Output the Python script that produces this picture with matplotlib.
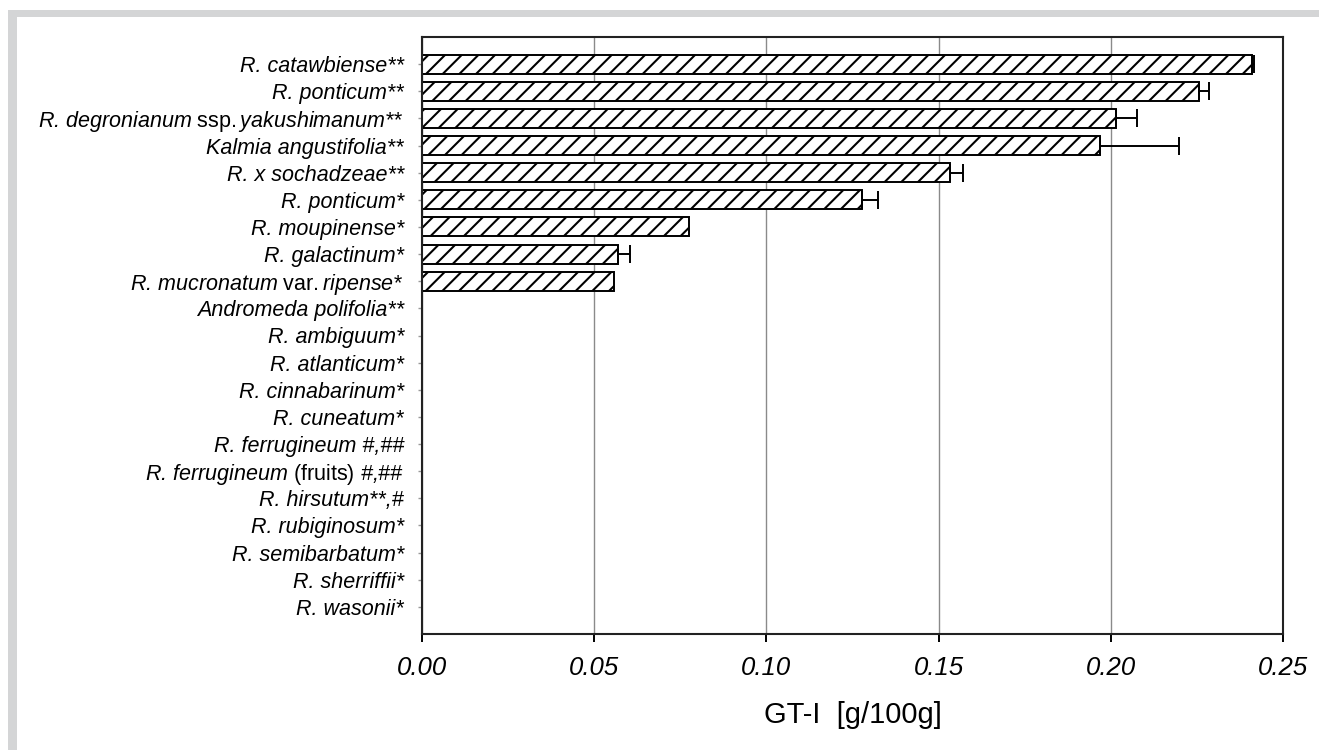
import numpy as np
import matplotlib
matplotlib.use("Agg")
import matplotlib.pyplot as plt
from matplotlib.patches import Rectangle

plt.rcParams['font.family'] = ['Liberation Sans', 'DejaVu Sans']
plt.rcParams['mathtext.fontset'] = 'custom'
plt.rcParams['mathtext.rm'] = 'Liberation Sans'
plt.rcParams['mathtext.it'] = 'Liberation Sans:italic'
plt.rcParams['hatch.linewidth'] = 1.5

# species, top to bottom
species = [
    r"R. catawbiense**",
    r"R. ponticum**",
    r"R. degronianum $\mathrm{ssp.}$yakushimanum**",
    r"Kalmia angustifolia**",
    r"R. x sochadzeae**",
    r"R. ponticum*",
    r"R. moupinense*",
    r"R. galactinum*",
    r"R. mucronatum $\mathrm{var.}$ripense*",
    r"Andromeda polifolia**",
    r"R. ambiguum*",
    r"R. atlanticum*",
    r"R. cinnabarinum*",
    r"R. cuneatum*",
    r"R. ferrugineum #,##",
    r"R. ferrugineum $\mathrm{(fruits)}$ #,##",
    r"R. hirsutum**,#",
    r"R. rubiginosum*",
    r"R. semibarbatum*",
    r"R. sherriffii*",
    r"R. wasonii*",
]
gt1 = [0.2410, 0.2255, 0.2015, 0.1968, 0.1533, 0.1278, 0.0774, 0.0568, 0.0558,
       0, 0, 0, 0, 0, 0, 0, 0, 0, 0, 0, 0]
gt1_err = [0.0005, 0.0030, 0.0060, 0.0230, 0.0037, 0.0047, 0, 0.0037, 0,
           0, 0, 0, 0, 0, 0, 0, 0, 0, 0, 0, 0]
xticks = [0.00, 0.05, 0.10, 0.15, 0.20, 0.25]

fig = plt.figure(figsize=(13.19, 7.5), dpi=100)
# grey card corner
fig.patches.append(Rectangle((8 / 1319, 1 - 17 / 750), 1, 7 / 750, transform=fig.transFigure,
                             facecolor='#d4d5d6', edgecolor='none', zorder=0))
fig.patches.append(Rectangle((8 / 1319, 0), 9 / 1319, 1 - 10 / 750, transform=fig.transFigure,
                             facecolor='#d4d5d6', edgecolor='none', zorder=0))

ax = fig.add_axes([422 / 1319, 1 - 634 / 750, (1283 - 422) / 1319, (634 - 37) / 750])

vals = np.array(gt1)
errs = np.array(gt1_err)
pos = np.arange(len(species))
has_bar = vals > 0
ax.barh(pos[has_bar], vals[has_bar], height=0.7, color='white', edgecolor='black',
        linewidth=1.4, hatch='//', zorder=2)
has_err = errs > 0
ax.errorbar(vals[has_err], pos[has_err],
            xerr=[np.zeros(has_err.sum()), errs[has_err]],
            fmt='none', ecolor='black', elinewidth=1.4, capsize=6.5, capthick=1.4, zorder=3)

ax.set_ylim(len(species), -1)
ax.set_xlim(0, 0.25)
ax.set_yticks(pos)
ax.set_yticklabels(species, fontstyle='italic', fontsize=15.5)
ax.set_xticks(xticks)
ax.set_xticklabels([f"{t:.2f}" for t in xticks], fontstyle='italic', fontsize=18.5)
ax.tick_params(axis='y', length=3, width=1, color='#999999', pad=10)
ax.tick_params(axis='x', length=6, width=1.4, color='black', pad=10)
ax.xaxis.grid(True, color='#8a8a8a', linewidth=1.0, zorder=0)
ax.set_axisbelow(True)
for sp in ax.spines.values():
    sp.set_linewidth(1.5)
    sp.set_color('#222222')
ax.set_xlabel("GT-I  [g/100g]", fontsize=21, labelpad=15)

fig.savefig("out.png", dpi=100)
